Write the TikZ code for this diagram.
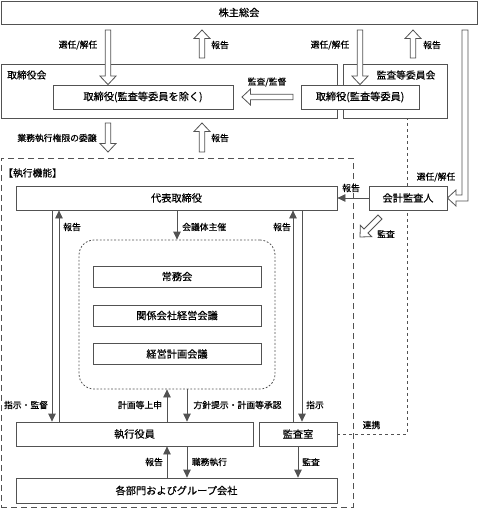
\documentclass[tikz,border=0pt]{standalone}
\usepackage{fontspec}
\newfontfamily\jp[FakeBold=0.4]{Noto Sans CJK JP}
\usetikzlibrary{calc,arrows.meta}

\colorlet{linegray}{black!68}

\tikzset{
  box/.style={draw=linegray, fill=white, line width=0.8pt, inner sep=0pt,
    font=\jp\fontsize{10.2}{12}\selectfont},
  frame/.style={draw=linegray, line width=0.8pt, inner sep=0pt},
  ttl/.style={inner sep=0pt, font=\jp\fontsize{9.8}{12}\selectfont},
  lbl/.style={inner sep=0pt, font=\jp\fontsize{8.8}{10}\selectfont},
  arr/.style={draw=linegray, line width=0.8pt, -{Triangle[length=8pt,width=7.5pt]}},
  hollow/.style={draw=linegray, line width=0.8pt, fill=white},
}

% hollow block arrow from #1 (tail) to #2 (tip)
\newcommand{\hollowarrow}[2]{%
  \coordinate (hb) at ($(#2)!8.5pt!(#1)$);
  \draw[hollow] ($(#1)!2.8pt!90:(#2)$) -- ($(hb)!2.8pt!90:(#2)$)
    -- ($(hb)!8pt!90:(#2)$) -- (#2) -- ($(hb)!8pt!-90:(#2)$)
    -- ($(hb)!2.8pt!-90:(#2)$) -- ($(#1)!2.8pt!-90:(#2)$) -- cycle;
}

\begin{document}
\begin{tikzpicture}[x=1pt,y=-1pt]
\useasboundingbox (0,0) rectangle (478,508);

% General meeting
\node [box,
    minimum width=476pt,
    minimum height=23pt] (gm) at (239,12.5) {株主総会};

% Board and audit committee
\node [frame,
    minimum width=336pt,
    minimum height=54pt] (bod) at (169,91) {};
\node [ttl, anchor=west] at (7,75) {取締役会};
\node [frame,
    minimum width=104pt,
    minimum height=54pt] (acm) at (395,91) {};
\node [ttl] at (406,75) {監査等委員会};

\node [box,
    minimum width=180pt,
    minimum height=24pt] (dir) at (143,97) {取締役(監査等委員を除く)};
\node [box,
    minimum width=118pt,
    minimum height=24pt] (adir) at (360,97) {取締役(監査等委員)};

% Executive function frame
\node [frame, dash pattern=on 6pt off 4pt,
    minimum width=352pt,
    minimum height=349pt] (exf) at (177,332.5) {};
\node [ttl, anchor=west] at (3,173) {【執行機能】};

\node [box,
    minimum width=321pt,
    minimum height=24pt] (rep) at (176.5,198) {代表取締役};
\node [box,
    minimum width=78pt,
    minimum height=24pt] (aud) at (408,198) {会計監査人};

% Meetings
\node [draw=linegray, line width=0.8pt, dash pattern=on 1.8pt off 1.8pt,
    rounded corners=15pt,
    minimum width=196pt,
    minimum height=149pt] (mtg) at (177,314.5) {};
\node [box, minimum width=168pt, minimum height=21pt] (m1) at (177,276.5) {常務会};
\node [box, minimum width=168pt, minimum height=21pt] (m2) at (177,315.5) {関係会社経営会議};
\node [box, minimum width=168pt, minimum height=21pt] (m3) at (177,354) {経営計画会議};

\node [box,
    minimum width=237pt,
    minimum height=24pt] (off) at (134.5,434) {執行役員};
\node [box,
    minimum width=78pt,
    minimum height=24pt] (iad) at (298,434) {監査室};
\node [box,
    minimum width=321pt,
    minimum height=25pt] (grp) at (176.5,490.5) {各部門およびグループ会社};

% Link line
\draw [linegray, line width=0.8pt, dash pattern=on 3pt off 3pt]
  (iad.east) -- (407,0 |- iad.east) -- (407,0 |- aud.south);
\draw [linegray, line width=0.8pt, dash pattern=on 3pt off 3pt]
  (407,0 |- aud.north) -- (407,0 |- acm.south);

% Hollow arrows, top part
\coordinate (s1) at (108,30);
\hollowarrow{s1}{108,0 |- dir.north}
\coordinate (r1) at (202,58);
\hollowarrow{r1}{202,30}
\coordinate (s2) at (360,30);
\hollowarrow{s2}{adir.north}
\coordinate (r2) at (413,58);
\hollowarrow{r2}{413,30}
\coordinate (sv) at (293,97);
\hollowarrow{sv}{242,97}
\coordinate (dl) at (108,123);
\hollowarrow{dl}{108,152}
\coordinate (r3) at (202,152);
\hollowarrow{r3}{202,123}
\coordinate (au) at (380,217);
\hollowarrow{au}{360,237}

% Bent arrow to the accounting auditor
\draw [hollow] (462,30) -- (462,195) -- (456,195) -- (456,190) -- (aud.east)
  -- (456,206) -- (456,201) -- (468,201) -- (468,30) -- cycle;

% Labels, top part
\node [lbl] at (78,45) {選任/解任};
\node [lbl] at (220,45) {報告};
\node [lbl] at (330,45) {選任/解任};
\node [lbl] at (432,45) {報告};
\node [lbl] at (267,82) {監査/監督};
\node [lbl] at (57,138) {業務執行権限の委譲};
\node [lbl] at (220,138) {報告};
\node [lbl] at (436,177) {選任/解任};
\node [lbl] at (351,188) {報告};
\node [lbl] at (386,234) {監査};

% Thin arrows
\draw [arr] (aud.west) -- (rep.east);
\draw [arr] (52,0 |- rep.south) -- (52,0 |- off.north);
\draw [arr] (59,0 |- off.north) -- (59,0 |- rep.south);
\draw [arr] (293,0 |- iad.north) -- (293,0 |- rep.south);
\draw [arr] (302,0 |- rep.south) -- (302,0 |- iad.north);
\draw [arr] (mtg.north |- rep.south) -- (mtg.north);
\draw [arr] (167,0 |- off.north) -- (167,0 |- mtg.south);
\draw [arr] (187,0 |- mtg.south) -- (187,0 |- off.north);
\draw [arr] (167,0 |- grp.north) -- (167,0 |- off.south);
\draw [arr] (187,0 |- off.south) -- (187,0 |- grp.north);
\draw [arr] (iad.south) -- (iad.south |- grp.north);

% Labels, executive part
\node [lbl] at (72,227) {報告};
\node [lbl, anchor=west] at (182,227) {会議体主催};
\node [lbl] at (282,227) {報告};
\node [lbl] at (26,405) {指示・監督};
\node [lbl] at (140,405) {計画等上申};
\node [lbl] at (237.5,405) {方針提示・計画等承認};
\node [lbl] at (315,405) {指示};
\node [lbl] at (371.5,425) {連携};
\node [lbl] at (154,462) {報告};
\node [lbl] at (209.5,462) {職務執行};
\node [lbl] at (311,462) {監査};

\end{tikzpicture}
\end{document}
